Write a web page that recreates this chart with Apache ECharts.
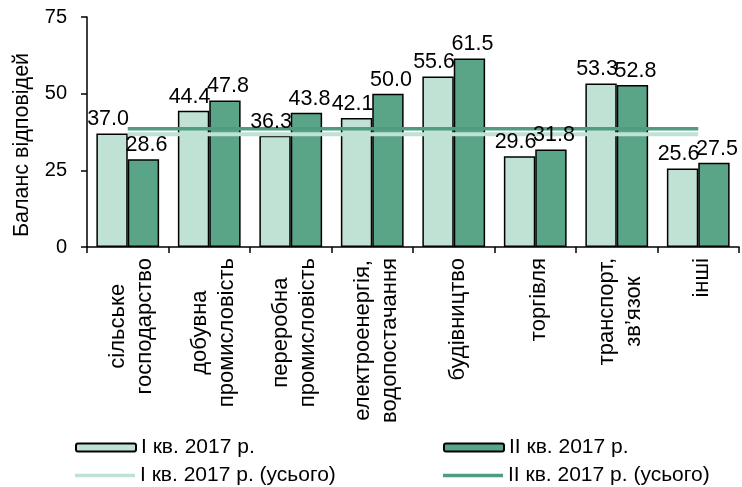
<!DOCTYPE html>
<html>
<head>
<meta charset="utf-8">
<script src="https://cdn.jsdelivr.net/npm/echarts@6/dist/echarts.min.js"></script>
<style>html,body{margin:0;padding:0;background:#fff;}#c{width:742px;height:487px;}</style>
</head>
<body>
<div id="c"></div>
<script>
var categories = ['сільське\nгосподарство', 'добувна\nпромисловість', 'переробна\nпромисловість', 'електроенергія,\nводопостачання', 'будівництво', 'торгівля', 'транспорт,\nзв’язок', 'інші'];
var q1 = [37.0, 44.4, 36.3, 42.1, 55.6, 29.6, 53.3, 25.6];
var q2 = [28.6, 47.8, 43.8, 50.0, 61.5, 31.8, 52.8, 27.5];
var q1Total = [36.8, 36.8, 36.8, 36.8, 36.8, 36.8, 36.8, 36.8];
var q2Total = [38.6, 38.6, 38.6, 38.6, 38.6, 38.6, 38.6, 38.6];
var yTicks = [0, 25, 50, 75];
var names = ['I кв. 2017 р.', 'II кв. 2017 р.', 'I кв. 2017 р. (усього)', 'II кв. 2017 р. (усього)'];

var FONT = "'Liberation Sans', Arial, sans-serif";
var LIGHT = '#c0e2d4', DARK = '#5aa488', DARKLINE = '#4f9c80';

function legendAt(left, top, name, iconH, isLine) {
  var l = {
    orient: 'horizontal', left: left, top: top, padding: 0,
    itemWidth: 60, itemHeight: iconH,
    textStyle: {fontSize: 21, fontFamily: FONT, color: '#000'},
    data: [name]
  };
  if (isLine) { l.icon = 'rect'; l.itemStyle = {borderWidth: 0}; }
  return l;
}
function labelCfg(dx) {
  return {show: true, position: 'top', distance: 3, offset: [dx, 0], fontSize: 21.5, fontFamily: FONT, color: '#000',
    formatter: function (p) { return Number(p.value).toFixed(1); }};
}

var chart = echarts.init(document.getElementById('c'), null, {renderer: 'canvas'});
chart.setOption({
  animation: false,
  textStyle: {fontFamily: FONT, color: '#000'},
  grid: {left: 87, right: 3, top: 17, bottom: 240, containLabel: false},
  legend: [
    legendAt(75, 437, names[0], 8, false),
    legendAt(443, 437, names[1], 8, false),
    legendAt(75, 465, names[2], 3.5, true),
    legendAt(443, 465, names[3], 3.5, true)
  ],
  xAxis: {
    type: 'category', data: categories,
    axisLine: {lineStyle: {color: '#000', width: 1.5}},
    axisTick: {show: true, length: 6, lineStyle: {color: '#000', width: 1.5}},
    axisLabel: {interval: 0, rotate: 90, fontSize: 22, lineHeight: 27, margin: 11, color: '#000', fontFamily: FONT,
      padding: [8, 0, 0, 0],
      formatter: function (v) {
        return v.split('\n').map(function (s) { return '{c|' + s + '}'; }).join('\n');
      },
      rich: {c: {align: 'center', fontSize: 22, lineHeight: 27, fontFamily: FONT, color: '#000'}}
    },
    splitLine: {show: false}
  },
  yAxis: {
    type: 'value', min: yTicks[0], max: yTicks[yTicks.length - 1], interval: 25,
    name: 'Баланс відповідей', nameLocation: 'middle', nameGap: 54,
    nameTextStyle: {fontSize: 21.5, fontFamily: FONT, color: '#000', padding: [0, 26, 0, 0]},
    axisLine: {show: true, lineStyle: {color: '#000', width: 1.5}},
    axisTick: {show: true, length: 6, lineStyle: {color: '#000', width: 1.5}},
    axisLabel: {fontSize: 20, margin: 20, color: '#000', fontFamily: FONT},
    splitLine: {show: false}
  },
  series: [{
    name: names[0], type: 'bar', data: q1, barGap: '0%', barCategoryGap: '23%', z: 2,
    itemStyle: {color: LIGHT, borderColor: '#000', borderWidth: 1.5}
  }, {
    name: names[1], type: 'bar', data: q2, barGap: '0%', barCategoryGap: '23%', z: 2,
    itemStyle: {color: DARK, borderColor: '#000', borderWidth: 1.5}
  }, {
    name: names[2], type: 'line', data: q1Total, symbol: 'none', showSymbol: false, z: 3,
    lineStyle: {color: LIGHT, width: 4}, itemStyle: {color: LIGHT}
  }, {
    name: names[3], type: 'line', data: q2Total, symbol: 'none', showSymbol: false, z: 3,
    lineStyle: {color: DARKLINE, width: 3.5}, itemStyle: {color: DARKLINE}
  }, {
    name: 'lbl1', type: 'pictorialBar', data: q1, barGap: '0%', barCategoryGap: '23%', z: 5,
    symbol: 'rect', symbolSize: ['100%', '100%'], itemStyle: {color: 'rgba(0,0,0,0)'},
    label: labelCfg(-4), tooltip: {show: false}, silent: true
  }, {
    name: 'lbl2', type: 'pictorialBar', data: q2, barGap: '0%', barCategoryGap: '23%', z: 5,
    symbol: 'rect', symbolSize: ['100%', '100%'], itemStyle: {color: 'rgba(0,0,0,0)'},
    label: labelCfg(3), tooltip: {show: false}, silent: true
  }]
});
</script>
</body>
</html>
